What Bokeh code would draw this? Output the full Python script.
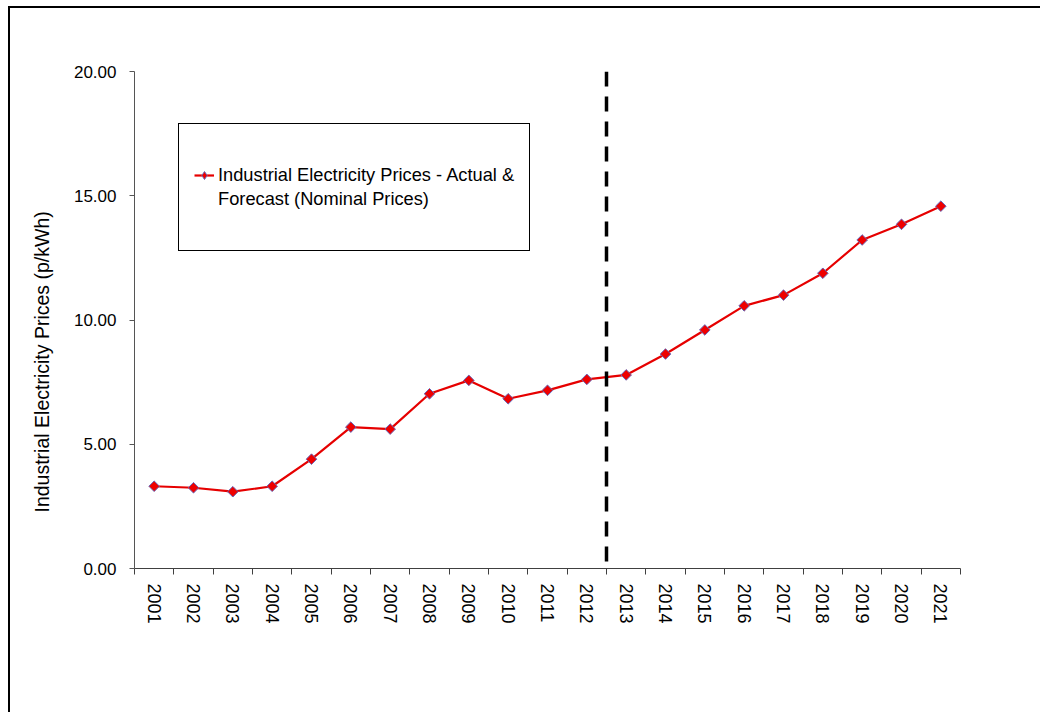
import math
from bokeh.plotting import figure
from bokeh.models import (Range1d, FixedTicker, NumeralTickFormatter, Span, Legend,
                          LegendItem, Title, ColumnDataSource)
from bokeh.embed import file_html
from bokeh.resources import INLINE

years = ["2001", "2002", "2003", "2004", "2005", "2006", "2007", "2008", "2009", "2010",
         "2011", "2012", "2013", "2014", "2015", "2016", "2017", "2018", "2019", "2020", "2021"]
prices = [3.31, 3.25, 3.09, 3.31, 4.40, 5.69, 5.61, 7.03, 7.57, 6.83,
          7.17, 7.61, 7.79, 8.63, 9.60, 10.57, 11.00, 11.88, 13.22, 13.85, 14.58]
y_ticks = [0, 5, 10, 15, 20]
last_actual_year = "2012"
series_label_line1 = "Industrial Electricity Prices - Actual &"
series_label_line2 = "Forecast (Nominal Prices)"
y_title = "Industrial Electricity Prices (p/kWh)"

FONT = "Liberation Sans"
x_pos = list(range(1, len(years) + 1))
boundaries = [i + 0.5 for i in range(0, len(years) + 1)]
forecast_boundary = years.index(last_actual_year) + 1.5
src = ColumnDataSource(data=dict(x=x_pos, y=prices, year=years))

p = figure(frame_width=826, frame_height=497,
           min_border_left=124, min_border_top=63, min_border_right=80, min_border_bottom=144,
           x_range=Range1d(0.5, len(years) + 0.5), y_range=Range1d(0, 20),
           output_backend="svg", toolbar_location=None)
p.styles = {"margin": "6px 0 0 8px", "border-top": "2px solid #000",
            "border-left": "2px solid #000"}
p.outline_line_color = None
p.xgrid.visible = False
p.ygrid.visible = False
p.background_fill_color = "white"
p.border_fill_color = "white"

# x axis: labels at centres, ticks at boundaries
xa = p.xaxis[0]
xa.ticker = FixedTicker(ticks=x_pos, minor_ticks=boundaries)
xa.major_label_overrides = {i: y for i, y in zip(x_pos, years)}
xa.major_tick_out = 0
xa.major_tick_in = 0
xa.minor_tick_out = 6
xa.minor_tick_in = 0
xa.minor_tick_line_color = "#404040"
xa.axis_line_color = "#404040"
xa.major_label_orientation = "vertical"
xa.major_label_standoff = 9
xa.major_label_text_font = FONT
xa.major_label_text_font_size = "18px"
xa.major_label_text_color = "black"

ya = p.yaxis[0]
ya.ticker = FixedTicker(ticks=y_ticks, minor_ticks=[])
ya.formatter = NumeralTickFormatter(format="0.00")
ya.major_tick_out = 5
ya.major_tick_in = 0
ya.minor_tick_out = 0
ya.minor_tick_in = 0
ya.major_tick_line_color = "#555555"
ya.axis_line_color = "#555555"
ya.major_label_standoff = 13
ya.major_label_text_font = FONT
ya.major_label_text_font_size = "17px"
ya.major_label_text_color = "black"

# series
ln = p.line("x", "y", source=src, line_color="#e60000", line_width=2.2)
# diamond scatter (provides the legend swatch; sits under the plotted markers)
legend_marker = p.scatter("x", "y", source=src, marker="diamond", size=9,
                          fill_color="#ee0000", line_color="#6868b8", line_width=1)
sc = p.scatter("x", "y", source=src, marker="square", angle=math.pi / 4, size=7.5,
               fill_color="#ee0000", line_color="#6868b8", line_width=1)

# forecast divider
p.add_layout(Span(location=forecast_boundary, dimension="height", line_color="black",
                  line_width=3.5, line_dash="15 10"))

# legend (two text lines in a framed box)
blank = p.line([], [], line_alpha=0)
items = [LegendItem(label=" ", renderers=[blank]),
         LegendItem(label=series_label_line1, renderers=[ln, legend_marker]),
         LegendItem(label=series_label_line2, renderers=[blank]),
         LegendItem(label=" ", renderers=[blank])]
leg = Legend(items=items, location=(44, 317), orientation="vertical",
             padding=15, spacing=0, margin=0, label_height=24, glyph_height=24,
             glyph_width=20, label_standoff=4, label_width=290,
             label_text_font=FONT, label_text_font_size="18.25px", label_text_color="black",
             border_line_color="black", border_line_width=1, border_line_alpha=1,
             background_fill_color="white", background_fill_alpha=1)
p.add_layout(leg)

# y axis title (offset towards the bottom like the original)
p.add_layout(Title(text=y_title, align="left", offset=56, standoff=36,
                   text_font=FONT, text_font_size="19.5px", text_font_style="normal",
                   text_color="black"), "left")

open("out.html", "w").write(file_html(p, INLINE))
